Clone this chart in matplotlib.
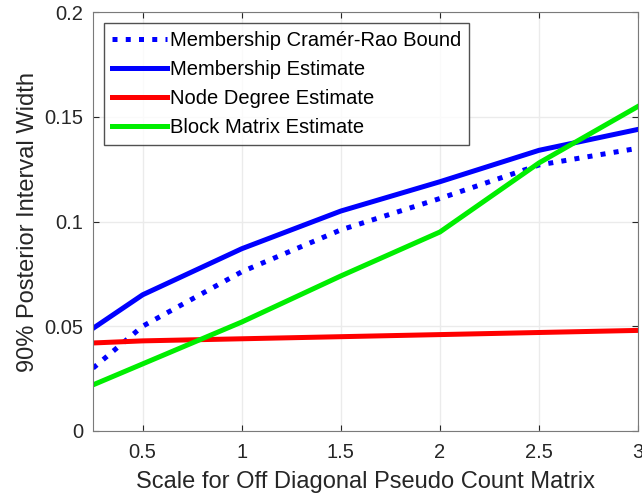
import numpy as np
import matplotlib.pyplot as plt

plt.rcParams['font.family'] = ['Liberation Sans', 'DejaVu Sans']

# Data
scale = [0.25, 0.5, 1.0, 1.5, 2.0, 2.5, 3.0]
crb = [0.030, 0.050, 0.076, 0.096, 0.111, 0.127, 0.135]
membership = [0.049, 0.065, 0.087, 0.105, 0.119, 0.134, 0.144]
node_degree = [0.042, 0.043, 0.044, 0.045, 0.046, 0.047, 0.048]
block_matrix = [0.022, 0.032, 0.052, 0.074, 0.095, 0.128, 0.155]

fig = plt.figure(figsize=(6.42, 5.04), dpi=100)
ax = fig.add_axes([0.145, 0.145, 0.849, 0.831])

ax.plot(scale, crb, color='#0000ff', linestyle=':', linewidth=3.6,
        label='Membership Cramér-Rao Bound')
ax.plot(scale, membership, color='#0000ff', linewidth=3.6,
        label='Membership Estimate')
ax.plot(scale, node_degree, color='#ff0000', linewidth=3.6,
        label='Node Degree Estimate')
ax.plot(scale, block_matrix, color='#00ee00', linewidth=3.6,
        label='Block Matrix Estimate')

ax.set_xlim(0.25, 3)
ax.set_ylim(0, 0.2)
ax.set_xticks([0.5, 1, 1.5, 2, 2.5, 3])
ax.set_xticklabels(['0.5', '1', '1.5', '2', '2.5', '3'])
ax.set_yticks([0, 0.05, 0.1, 0.15, 0.2])
ax.set_yticklabels(['0', '0.05', '0.1', '0.15', '0.2'])
ax.tick_params(labelsize=14.5, colors='#262626', direction='in', length=4,
               top=True, right=True)
ax.tick_params(axis='x', pad=9)
ax.tick_params(axis='y', pad=7)
ax.grid(True, color='#ebebeb', linewidth=1)
for s in ax.spines.values():
    s.set_color('#7a7a7a')

ax.set_xlabel('Scale for Off Diagonal Pseudo Count Matrix', fontsize=17,
              color='#262626', labelpad=6)
ax.set_ylabel('90% Posterior Interval Width', fontsize=17, color='#262626')

leg = ax.legend(loc='upper left', fontsize=14.5, frameon=True, fancybox=False,
                edgecolor='#262626', handlelength=2.7, handletextpad=0.15,
                borderaxespad=0.55, labelspacing=0.5)
leg.get_frame().set_linewidth(1)

fig.savefig('out.png', dpi=100)
